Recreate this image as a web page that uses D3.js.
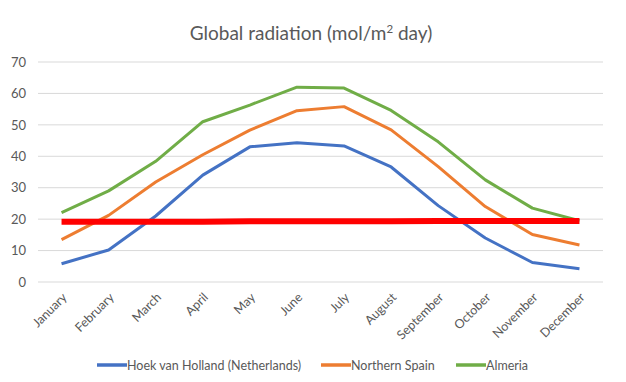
<!DOCTYPE html>
<html><head><meta charset="utf-8">
<script src="https://cdn.jsdelivr.net/npm/d3@7"></script>
<style>body{margin:0;background:#fff;} text{font-family:Lato,"Open Sans",sans-serif;}</style>
</head><body>
<svg id="chart" width="626" height="382"></svg>
<script>
const months = ["January","February","March","April","May","June","July","August","September","October","November","December"];
const hoek = [5.8, 10.2, 21.0, 34.0, 43.0, 44.3, 43.3, 36.6, 24.3, 14.0, 6.2, 4.2];
const northernSpain = [13.5, 21.2, 31.8, 40.5, 48.3, 54.5, 55.8, 48.4, 36.7, 24.0, 15.1, 11.8];
const almeria = [22.1, 29.0, 38.4, 51.0, 56.3, 62.0, 61.7, 54.6, 44.6, 32.5, 23.5, 19.5];
const threshold = [19.2, 19.2, 19.2, 19.2, 19.3, 19.3, 19.3, 19.3, 19.4, 19.4, 19.4, 19.4];
const yTicks = [0, 10, 20, 30, 40, 50, 60, 70];
const seriesNames = ["Hoek van Holland (Netherlands)", "Northern Spain", "Almeria"];

const svg = d3.select("#chart");
const x = d3.scaleBand().domain(months).range([38, 603]);
const y = d3.scaleLinear().domain([0, 70]).range([282, 62]);
const cx = d => x(d) + x.bandwidth() / 2;
const textCol = "#595959";

// title
const title = svg.append("text").attr("x", 311).attr("y", 40).attr("text-anchor", "middle")
  .attr("font-size", 19).attr("fill", textCol);
title.append("tspan").text("Global radiation (mol/m");
title.append("tspan").attr("font-size", 11.5).attr("dy", -7).text("2");
title.append("tspan").attr("dy", 7).text(" day)");

// gridlines
svg.append("g").selectAll("line").data(yTicks).join("line")
  .attr("x1", 38).attr("x2", 603).attr("y1", d => y(d)).attr("y2", d => y(d))
  .attr("stroke", "#d9d9d9").attr("stroke-width", 1);

// y axis
const yAxis = svg.append("g").attr("transform", "translate(30,0)")
  .call(d3.axisLeft(y).tickValues(yTicks).tickSize(0).tickPadding(4));
yAxis.select(".domain").remove();
yAxis.selectAll("text").attr("font-size", 13).attr("fill", textCol).attr("font-family", "Lato");

// x axis
const xAxis = svg.append("g").attr("transform", "translate(0,282)")
  .call(d3.axisBottom(x).tickSize(0));
xAxis.select(".domain").remove();
xAxis.selectAll("text").attr("font-size", 12.5).attr("fill", textCol).attr("font-family", "Lato")
  .attr("text-anchor", "end").attr("dy", 0)
  .attr("transform", "translate(4,14) rotate(-45)");

const line = d3.line().x((d, i) => cx(months[i])).y(d => y(d));
const colors = ["#4472C4", "#ED7D31", "#70AD47"];
[hoek, northernSpain, almeria].forEach((s, k) => {
  svg.append("path").datum(s).attr("d", line).attr("fill", "none")
    .attr("stroke", colors[k]).attr("stroke-width", 3).attr("stroke-linejoin", "round");
});
svg.append("path").datum(threshold).attr("d", line).attr("fill", "none")
  .attr("stroke", "#ff0000").attr("stroke-width", 6);

// legend
const legendX = [97, 321, 456];
const lg = svg.append("g");
seriesNames.forEach((n, k) => {
  lg.append("line").attr("x1", legendX[k]).attr("x2", legendX[k] + 30).attr("y1", 365).attr("y2", 365)
    .attr("stroke", colors[k]).attr("stroke-width", 3.5);
  lg.append("text").attr("x", legendX[k] + 30).attr("y", 369.5).attr("font-size", 12.5)
    .attr("fill", textCol).text(n);
});
</script>
</body></html>
